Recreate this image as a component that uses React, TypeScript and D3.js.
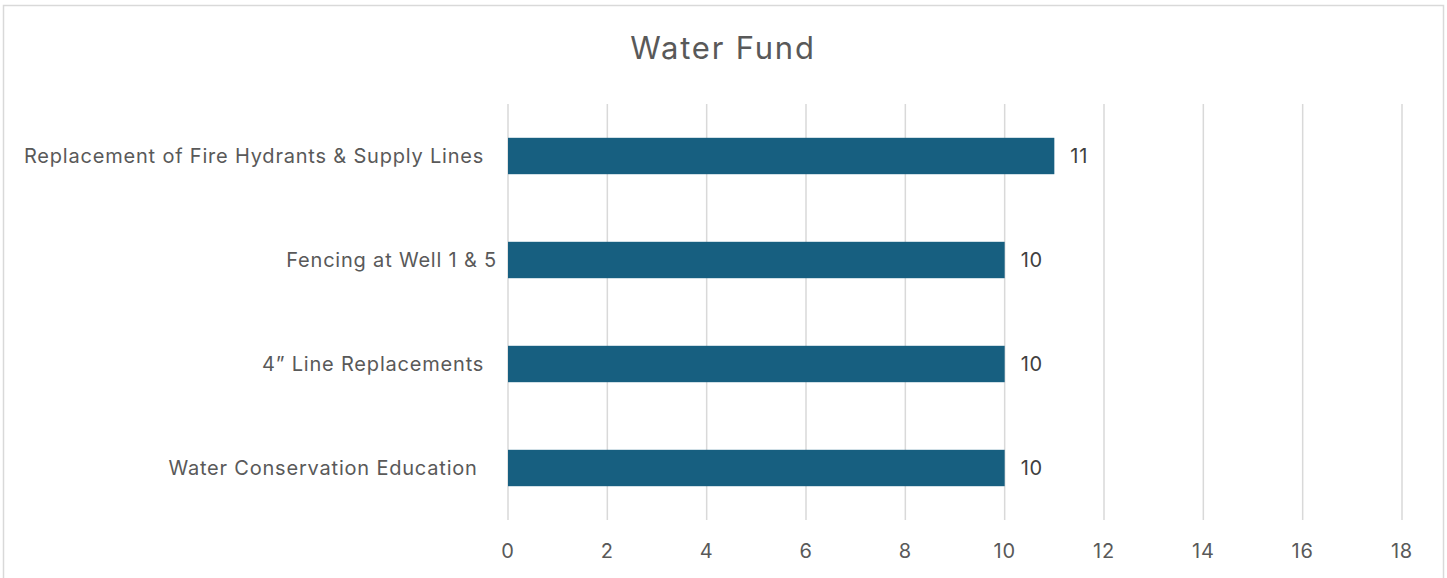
import React, { useEffect, useRef } from "react";
import * as d3 from "d3";

const categories = [
  "Replacement of Fire Hydrants & Supply Lines  ",
  "Fencing at Well 1 & 5",
  "4\u201d Line Replacements  ",
  "Water Conservation Education   ",
];
const values = [11, 10, 10, 10];
const xTicks = [0, 2, 4, 6, 8, 10, 12, 14, 16, 18];

export default function App() {
  const ref = useRef<SVGSVGElement>(null);

  useEffect(() => {
    const width = 1447;
    const height = 578;
    const margin = { top: 104, right: 45, bottom: 58, left: 508 };
    const font = "Inter, 'Noto Sans', sans-serif";

    const svg = d3.select(ref.current).html("");
    svg.attr("width", width).attr("height", height);

    svg
      .append("rect")
      .attr("x", 3.5)
      .attr("y", 5.5)
      .attr("width", 1440)
      .attr("height", 600)
      .attr("fill", "#fff")
      .attr("stroke", "#d9d9d9")
      .attr("stroke-width", 1.5);

    svg
      .append("text")
      .attr("x", 723)
      .attr("y", 59)
      .attr("text-anchor", "middle")
      .style("font-family", font)
      .style("font-size", "31px")
      .style("letter-spacing", "1.8px")
      .attr("fill", "#595959")
      .text("Water Fund");

    const x = d3
      .scaleLinear()
      .domain([0, 18])
      .range([margin.left, width - margin.right]);
    const y = d3
      .scaleBand()
      .domain(categories)
      .range([margin.top, height - margin.bottom])
      .paddingInner(0.65)
      .paddingOuter(0.325);

    const g = svg.append("g");

    g.selectAll(".grid")
      .data(xTicks)
      .enter()
      .append("line")
      .attr("x1", (d) => x(d))
      .attr("x2", (d) => x(d))
      .attr("y1", margin.top)
      .attr("y2", height - margin.bottom)
      .attr("stroke", "#d9d9d9")
      .attr("stroke-width", 1.5);

    g.selectAll(".bar")
      .data(values)
      .enter()
      .append("rect")
      .attr("x", x(0))
      .attr("y", (d, i) => y(categories[i])!)
      .attr("width", (d) => x(d) - x(0))
      .attr("height", y.bandwidth())
      .attr("fill", "#175f80");

    g.selectAll(".val")
      .data(values)
      .enter()
      .append("text")
      .attr("x", (d) => x(d) + 16)
      .attr("y", (d, i) => y(categories[i])! + y.bandwidth() / 2)
      .attr("dy", "0.36em")
      .style("font-family", font)
      .style("font-size", "20px")
      .style("letter-spacing", "0.8px")
      .attr("fill", "#404040")
      .text((d) => d);

    g.selectAll(".cat")
      .data(categories)
      .enter()
      .append("text")
      .attr("x", 497)
      .attr("y", (d) => y(d)! + y.bandwidth() / 2)
      .attr("dy", "0.36em")
      .attr("text-anchor", "end")
      .style("white-space", "pre")
      .style("font-family", font)
      .style("font-size", "20px")
      .style("letter-spacing", "0.8px")
      .attr("fill", "#595959")
      .text((d) => d);

    g.selectAll(".tick")
      .data(xTicks)
      .enter()
      .append("text")
      .attr("x", (d) => x(d))
      .attr("y", 551)
      .attr("dy", "0.36em")
      .attr("text-anchor", "middle")
      .style("font-family", font)
      .style("font-size", "20px")
      .style("letter-spacing", "0.8px")
      .attr("fill", "#595959")
      .text((d) => d);
  }, []);

  return (
    <svg
      ref={ref}
      style={{ position: "absolute", left: 0, top: 0, display: "block" }}
    />
  );
}
